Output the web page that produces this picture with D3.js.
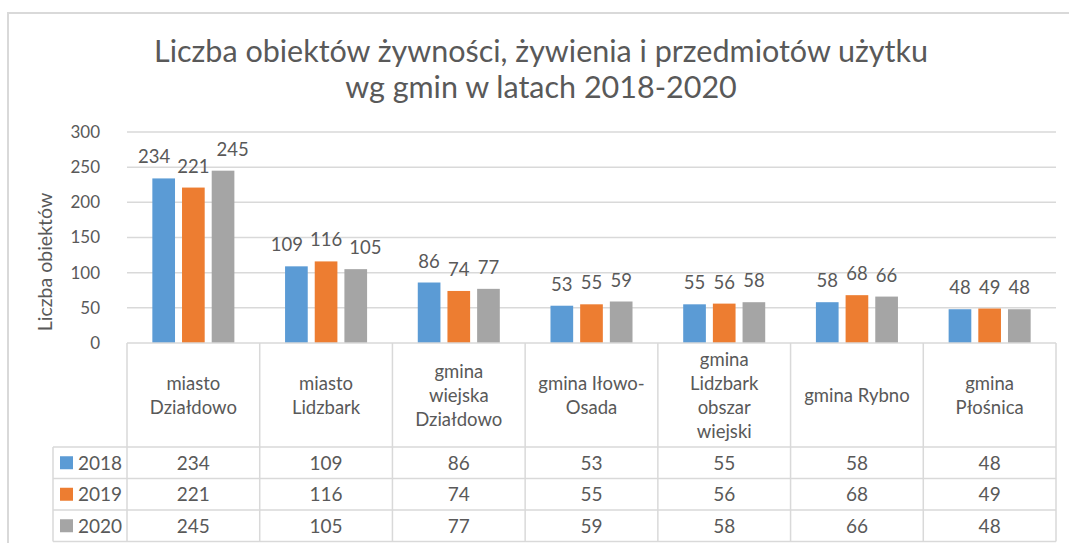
<!DOCTYPE html>
<html>
<head>
<meta charset="utf-8">
<script src="https://cdn.jsdelivr.net/npm/d3@7/dist/d3.min.js"></script>
<style>
  body { margin: 0; background: #fff; }
  text { font-family: Lato, "Open Sans", sans-serif; fill: #595959; }
</style>
</head>
<body>
<div id="chart"></div>
<script>
var width = 1069,
    height = 543;

// dane
var categories = ["miasto\nDziałdowo", "miasto\nLidzbark", "gmina\nwiejska\nDziałdowo",
    "gmina Iłowo-\nOsada", "gmina\nLidzbark\nobszar\nwiejski", "gmina Rybno", "gmina\nPłośnica"];
var years = ["2018", "2019", "2020"];
var values2018 = [234, 109, 86, 53, 55, 58, 48];
var values2019 = [221, 116, 74, 55, 56, 68, 49];
var values2020 = [245, 105, 77, 59, 58, 66, 48];
var yTicks = [0, 50, 100, 150, 200, 250, 300];
var colors = ["#5b9bd5", "#ed7d31", "#a5a5a5"];

var series = [values2018, values2019, values2020];

var svg = d3.select("#chart").append("svg")
    .attr("width", width)
    .attr("height", height)

var plotLeft = 127, plotRight = 1056, plotTop = 132, base = 343;
var grid = "#d9d9d9";

// ramka wykresu
svg.append("rect")
    .attr("x", 8).attr("y", 13)
    .attr("width", 1200).attr("height", 700)
    .attr("fill", "none")
    .attr("stroke", grid)
    .attr("stroke-width", 2)

svg.append("text")
    .attr("text-anchor", "middle")
    .style("font-size", "30.5px")
    .selectAll("tspan")
    .data(["Liczba obiektów żywności, żywienia i przedmiotów użytku", "wg gmin w latach 2018-2020"])
    .enter().append("tspan")
    .attr("x", 541)
    .attr("y", function(d, i) { return 62 + i * 36 })
    .text(function(d) { return d })

var x = d3.scaleBand().domain(categories).range([plotLeft, plotRight]);
var xs = d3.scaleBand().domain(years).range([0, x.bandwidth()])
    .paddingInner(0.236).paddingOuter(0.854);
var y = d3.scaleLinear().domain([0, 300]).range([base, plotTop]);

// linie siatki
svg.append("g")
    .selectAll("line")
    .data(yTicks.slice(1))
    .enter().append("line")
    .attr("x1", plotLeft).attr("x2", plotRight)
    .attr("y1", function(d) { return y(d) })
    .attr("y2", function(d) { return y(d) })
    .attr("stroke", grid)
    .attr("stroke-width", 1.5)

var yAxis = svg.append("g")
    .attr("transform", "translate(" + (plotLeft - 27) + ",0)")
    .call(d3.axisLeft(y).tickValues(yTicks).tickSize(0).tickPadding(0))
yAxis.select(".domain").remove()
yAxis.selectAll("text")
    .style("font-size", "17px")
    .style("fill", "#595959")
    .style("font-family", "Lato, sans-serif")

svg.append("text")
    .attr("transform", "translate(52,262) rotate(-90)")
    .attr("text-anchor", "middle")
    .style("font-size", "19.5px")
    .text("Liczba obiektów")

// słupki
var groups = svg.append("g")
    .selectAll("g")
    .data(series)
    .enter().append("g")
    .attr("fill", function(d, i) { return colors[i] })

var labels = [];   // etykiety wg kategorii
groups.each(function(vals, si) {
    var g = d3.select(this);
    g.selectAll("rect")
        .data(vals)
        .enter().append("rect")
        .attr("x", function(d, i) { return x(categories[i]) + xs(years[si]) })
        .attr("y", function(d) { return y(d) })
        .attr("width", xs.bandwidth())
        .attr("height", function(d) { return base - y(d) })
    g.selectAll("text")
        .data(vals)
        .enter().append("text")
        .attr("x", function(d, i) { return x(categories[i]) + xs(years[si]) + xs.bandwidth() / 2 })
        .attr("y", function(d) { return y(d) - 15 })
        .attr("text-anchor", "middle")
        .style("font-size", "18.5px")
        .text(function(d) { return d })
        .each(function(d, i) {
            labels[i] = labels[i] || [];
            labels[i][si] = this;
        })
})

// rozsuń etykiety które na siebie nachodzą
labels.forEach(function(ls) {
    var w = ls.map(function(n) { return n.getComputedTextLength() });
    var c = ls.map(function(n) { return +n.getAttribute("x") });
    var gap = 7;
    for (var it = 0; it < 20; it++) {
        for (var k = 0; k < c.length - 1; k++) {
            var need = (w[k] + w[k + 1]) / 2 + gap - (c[k + 1] - c[k]);
            if (need > 0) { c[k] -= need / 2; c[k + 1] += need / 2; }
        }
    }
    ls.forEach(function(n, k) { d3.select(n).attr("x", c[k]) })
})

// tabela danych
var hdrBottom = 447;
var rowH = 31.5;
var legLeft = 53;
var tbl = svg.append("g").attr("stroke", grid).attr("stroke-width", 1.5)

tbl.append("line").attr("x1", plotLeft).attr("x2", plotRight).attr("y1", base).attr("y2", base)
d3.range(4).forEach(function(r) {
    tbl.append("line")
        .attr("x1", legLeft).attr("x2", plotRight)
        .attr("y1", hdrBottom + r * rowH).attr("y2", hdrBottom + r * rowH)
})
tbl.append("line").attr("x1", legLeft).attr("x2", legLeft)
    .attr("y1", hdrBottom).attr("y2", hdrBottom + 3 * rowH)
categories.concat([null]).forEach(function(c) {
    var xx = c ? x(c) : plotRight;
    tbl.append("line").attr("x1", xx).attr("x2", xx)
        .attr("y1", base).attr("y2", hdrBottom + 3 * rowH)
})

// nagłówki kategorii
categories.forEach(function(c) {
    var lines = c.split("\n");
    var t = svg.append("text")
        .attr("text-anchor", "middle")
        .style("font-size", "18.5px")
    lines.forEach(function(l, i) {
        t.append("tspan")
            .attr("x", x(c) + x.bandwidth() / 2)
            .attr("y", (base + hdrBottom) / 2 + 6.5 + (i - (lines.length - 1) / 2) * 24)
            .text(l)
    })
})

// wiersze z wartościami
series.forEach(function(vals, si) {
    var cy = hdrBottom + si * rowH + rowH / 2;
    svg.append("rect")
        .attr("x", 60).attr("y", cy - 6.5)
        .attr("width", 13).attr("height", 13)
        .attr("fill", colors[si])
    svg.append("text")
        .attr("x", 78).attr("y", cy + 7)
        .style("font-size", "19px")
        .text(years[si])
    vals.forEach(function(v, i) {
        svg.append("text")
            .attr("x", x(categories[i]) + x.bandwidth() / 2)
            .attr("y", cy + 7)
            .attr("text-anchor", "middle")
            .style("font-size", "19px")
            .text(v)
    })
})
</script>
</body>
</html>
